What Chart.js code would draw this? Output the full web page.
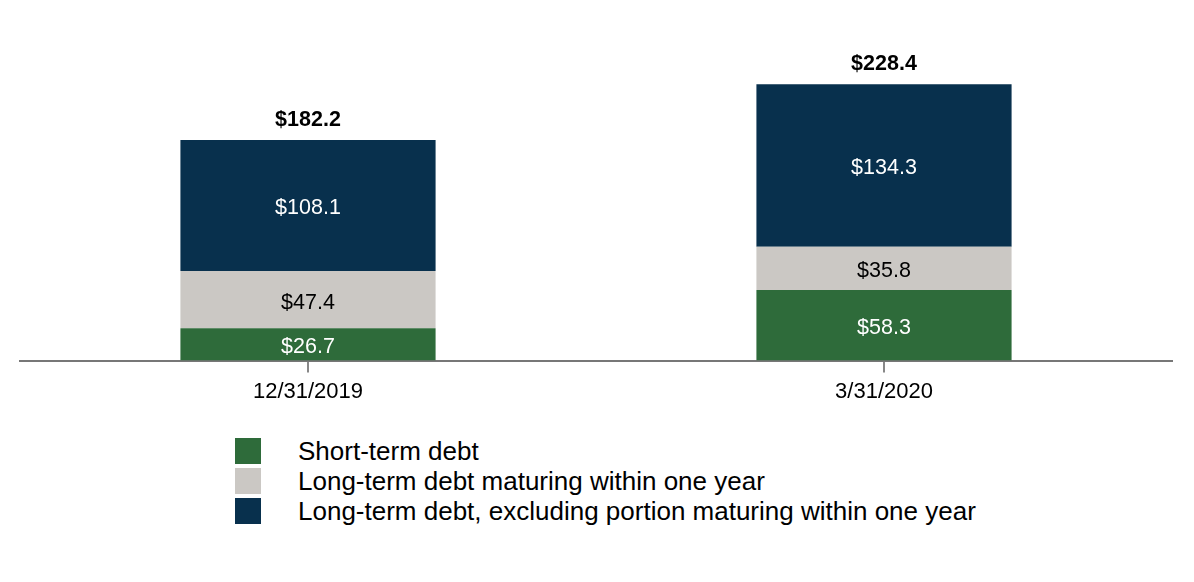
<!DOCTYPE html>
<html>
<head>
<meta charset="utf-8">
<script src="https://cdn.jsdelivr.net/npm/chart.js@4.4.1/dist/chart.umd.min.js"></script>
<style>
body{margin:0;background:#fff;font-family:"Liberation Sans",Arial,sans-serif;}
#wrap{position:relative;width:1194px;height:582px;}
#chartBox{position:absolute;left:0;top:0;width:1194px;height:420px;}
#legend{position:absolute;left:235px;top:438px;}
.item{display:flex;align-items:center;height:26px;margin-bottom:4px;}
.sw{width:26px;height:26px;margin-right:37px;}
.lbl{font-size:26px;color:#000;white-space:nowrap;}
</style>
</head>
<body>
<div id="wrap">
<div id="chartBox"><canvas id="debt"></canvas></div>
<div id="legend"></div>
</div>
<script>
// values in $ billions
var dates=["12/31/2019","3/31/2020"];
var shortTerm=[26.7,58.3];
var ltCurrent=[47.4,35.8];
var ltNonCurrent=[108.1,134.3];
var totals=[182.2,228.4];
var seriesNames=["Short-term debt","Long-term debt maturing within one year","Long-term debt, excluding portion maturing within one year"];
var colors=["#2e6b3a","#cbc8c4","#08304d"];
var labelColors=["#ffffff","#000000","#ffffff"];

var labelPlugin={
  id:'barLabels',
  afterDatasetsDraw:function(chart){
    var ctx=chart.ctx;
    ctx.save();
    ctx.textAlign='center';
    ctx.textBaseline='middle';
    chart.data.datasets.forEach(function(ds,i){
      var meta=chart.getDatasetMeta(i);
      meta.data.forEach(function(bar,j){
        var mid=(bar.y+bar.base)/2;
        ctx.font='21.5px "Liberation Sans", Arial, sans-serif';
        ctx.fillStyle=labelColors[i];
        ctx.fillText('$'+ds.data[j].toFixed(1),bar.x,mid+3);
      });
    });
    var top=chart.getDatasetMeta(chart.data.datasets.length-1);
    top.data.forEach(function(bar,j){
      ctx.font='bold 21.5px "Liberation Sans", Arial, sans-serif';
      ctx.fillStyle='#000';
      ctx.fillText('$'+totals[j].toFixed(1),bar.x,bar.y-20);
    });
    ctx.restore();
  }
};

var ctx=document.getElementById("debt");
var debtChart=new Chart(ctx,{
  type:'bar',
  data:{
    labels:dates,
    datasets:[
      {label:seriesNames[0],data:shortTerm,backgroundColor:colors[0]},
      {label:seriesNames[1],data:ltCurrent,backgroundColor:colors[1]},
      {label:seriesNames[2],data:ltNonCurrent,backgroundColor:colors[2]}
    ]
  },
  options:{
    responsive:true,
    maintainAspectRatio:false,
    animation:false,
    datasets:{bar:{categoryPercentage:1,barPercentage:0.443}},
    layout:{padding:{left:20,right:22,top:58,bottom:9}},
    plugins:{legend:{display:false},tooltip:{enabled:false}},
    scales:{
      x:{
        stacked:true,
        grid:{offset:false,drawOnChartArea:false,tickLength:12,tickColor:'#888',lineWidth:2},
        border:{display:true,color:'#777',width:2},
        ticks:{color:'#000',padding:6,font:{size:22,family:'"Liberation Sans", Arial, sans-serif'}}
      },
      y:{stacked:true,display:false,min:0,max:250}
    }
  },
  plugins:[labelPlugin]
});

var leg=document.getElementById("legend");
debtChart.data.datasets.forEach(function(ds){
  var row=document.createElement("div");row.className="item";
  var sw=document.createElement("div");sw.className="sw";sw.style.background=ds.backgroundColor;
  var t=document.createElement("div");t.className="lbl";t.textContent=ds.label;
  row.appendChild(sw);row.appendChild(t);leg.appendChild(row);
});
</script>
</body>
</html>
